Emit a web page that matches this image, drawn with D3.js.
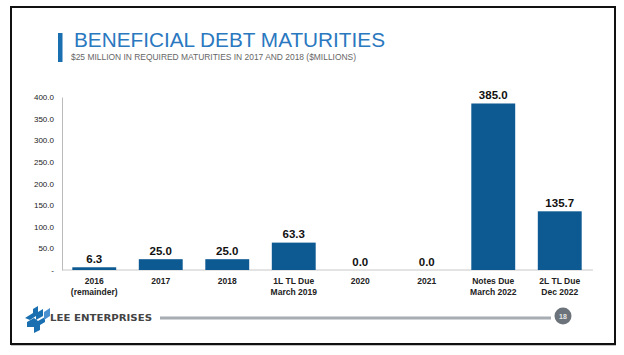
<!DOCTYPE html>
<html><head><meta charset="utf-8">
<script src="https://cdn.jsdelivr.net/npm/d3@7"></script>
<style>html,body{margin:0;padding:0;background:#fff;}svg{display:block;}</style>
</head><body>
<script>
const categories = [["2016","(remainder)"],["2017"],["2018"],["1L TL Due","March 2019"],["2020"],["2021"],["Notes Due","March 2022"],["2L TL Due","Dec 2022"]];
const values = [6.3, 25.0, 25.0, 63.3, 0.0, 0.0, 385.0, 135.7];
const yTicks = [0, 50, 100, 150, 200, 250, 300, 350, 400];
const title = "BENEFICIAL DEBT MATURITIES";
const subtitle = "$25 MILLION IN REQUIRED MATURITIES IN 2017 AND 2018 ($MILLIONS)";

const W = 624, H = 355;
const svg = d3.select("body").append("svg").attr("width", W).attr("height", H);

// frame
svg.append("rect").attr("x", 11).attr("y", 7).attr("width", 604).attr("height", 337)
  .attr("fill", "#fff").attr("stroke", "#111").attr("stroke-width", 2);
svg.append("line").attr("x1", 11).attr("x2", 616).attr("y1", 344.5).attr("y2", 344.5).attr("stroke", "#111").attr("stroke-width", 1.5);

// title
svg.append("rect").attr("x", 58).attr("y", 33).attr("width", 4.5).attr("height", 29).attr("fill", "#1a6fb0");
svg.append("text").attr("x", 74).attr("y", 47).text(title)
  .attr("font-family", "Liberation Sans, Arial, sans-serif").attr("font-size", 19.5)
  .attr("fill", "#2a78c0").attr("textLength", 311).attr("lengthAdjust", "spacingAndGlyphs");
svg.append("text").attr("x", 71).attr("y", 59.5).text(subtitle)
  .attr("font-family", "Liberation Sans, Arial, sans-serif").attr("font-size", 8.2)
  .attr("fill", "#666").attr("textLength", 285).attr("lengthAdjust", "spacingAndGlyphs");

// scales
const x = d3.scaleBand().domain(d3.range(categories.length)).range([61, 593]).paddingInner(0.34).paddingOuter(0.17);
const y = d3.scaleLinear().domain([0, 400]).range([270, 97]);

// y axis
const yAxis = d3.axisLeft(y).tickValues(yTicks).tickSize(0).tickPadding(8)
  .tickFormat(d => d === 0 ? "-" : d3.format(".1f")(d));
const ga = svg.append("g").attr("transform", "translate(62,0)").call(yAxis);
ga.select(".domain").attr("stroke", "#bbb").attr("stroke-width", 1);
ga.selectAll("text").attr("font-family", "Liberation Sans, Arial, sans-serif").attr("font-size", 8).attr("fill", "#222");

// baseline
svg.append("line").attr("x1", 62).attr("x2", 593).attr("y1", y(0)).attr("y2", y(0))
  .attr("stroke", "#c8c8c8").attr("stroke-width", 1);

// bars
svg.selectAll("rect.bar").data(values).join("rect").attr("class", "bar")
  .attr("x", (d, i) => x(i)).attr("width", x.bandwidth())
  .attr("y", d => y(d)).attr("height", d => y(0) - y(d))
  .attr("fill", "#0d5a92");

// value labels
svg.selectAll("text.val").data(values).join("text").attr("class", "val")
  .attr("x", (d, i) => x(i) + x.bandwidth() / 2).attr("y", d => y(d) - 4.5)
  .attr("text-anchor", "middle").attr("font-family", "Liberation Sans, Arial, sans-serif")
  .attr("font-weight", "bold").attr("font-size", 11.5).attr("fill", "#111")
  .text(d => d3.format(".1f")(d));

// category labels
const cl = svg.selectAll("text.cat").data(categories).join("text").attr("class", "cat")
  .attr("text-anchor", "middle").attr("font-family", "Liberation Sans Narrow, Liberation Sans, Arial, sans-serif")
  .attr("font-weight", "bold").attr("font-size", 8.5).attr("fill", "#222");
cl.each(function(d, i) {
  const t = d3.select(this);
  d.forEach((line, j) => {
    t.append("tspan").attr("x", x(i) + x.bandwidth() / 2).attr("y", 284 + j * 11).text(line);
  });
});

// footer logo
const logo = svg.append("g").attr("fill", "#1a6fb0");
logo.append("path").attr("d", "M25,318 L33,313 L33,309 L38,306 L38,312 L43,309 L43,316 L36,320 L36,316 L30,320 Z");
logo.append("path").attr("d", "M27,322 L34,318 L38,321 L45,317 L45,322 L40,325 L40,330 L34,333 L34,327 L27,327 Z");
logo.append("path").attr("d", "M44,312 L50,308 L50,316 L44,320 Z").attr("fill", "#4a8fd0");
svg.append("text").attr("x", 50).attr("y", 321).text("LEE ENTERPRISES")
  .attr("font-family", "DejaVu Sans, Arial, sans-serif").attr("font-weight", "bold").attr("font-size", 9)
  .attr("fill", "#444").attr("textLength", 102).attr("lengthAdjust", "spacingAndGlyphs");
svg.append("line").attr("x1", 160).attr("x2", 551).attr("y1", 318).attr("y2", 318)
  .attr("stroke", "#a7adb3").attr("stroke-width", 3);
svg.append("circle").attr("cx", 563).attr("cy", 316).attr("r", 8.5).attr("fill", "#6d737a");
svg.append("text").attr("x", 563).attr("y", 319).attr("text-anchor", "middle").text("18")
  .attr("font-family", "Liberation Sans, Arial, sans-serif").attr("font-size", 7).attr("font-weight", "bold").attr("fill", "#e6e6e6");
</script>
</body></html>
